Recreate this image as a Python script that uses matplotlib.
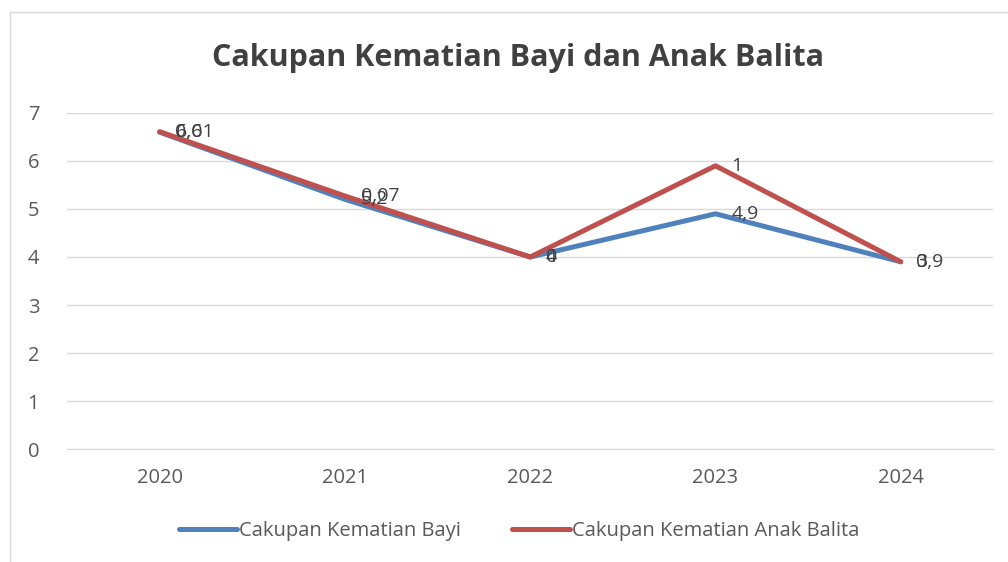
import matplotlib.pyplot as plt
import numpy as np
from matplotlib.patches import Rectangle

# data (red series is stacked on top of blue, as in the Excel chart)
years = ["2020", "2021", "2022", "2023", "2024"]
bayi = [6.6, 5.2, 4, 4.9, 3.9]
balita = [0.01, 0.07, 0, 1, 0]

plt.rcParams['font.family'] = ['Open Sans', 'DejaVu Sans']

def fmt(v):
    s = f"{v:g}"
    return s.replace(".", ",")

fig = plt.figure(figsize=(10.08, 5.62), dpi=100)
ax = fig.add_axes([0.0665, 0.201, 0.919, 0.598])

x = np.arange(len(years))
stacked = np.array(bayi) + np.array(balita)

blue = "#4F81BD"
red = "#C0504D"
ax.plot(x, bayi, color=blue, lw=3.6, solid_capstyle="round", label="Cakupan Kematian Bayi", zorder=3)
ax.plot(x, stacked, color=red, lw=3.6, solid_capstyle="round", label="Cakupan Kematian Anak Balita", zorder=4)

# data labels to the right of points
for i in range(len(x)):
    ax.text(x[i] + 0.085, bayi[i], fmt(bayi[i]), va="center", ha="left", fontsize=14, color="#404040", zorder=5)
    ax.text(x[i] + 0.085, stacked[i], fmt(balita[i]), va="center", ha="left", fontsize=14, color="#404040", zorder=5)

ax.set_xlim(-0.5, 4.5)
ax.set_ylim(0, 7)
ax.set_xticks(x)
ax.set_xticklabels(years)
ax.set_yticks(range(0, 8))
ax.grid(axis="y", color="#D9D9D9", lw=1)
ax.set_axisbelow(True)
for s in ["top", "right", "left"]:
    ax.spines[s].set_visible(False)
ax.spines["bottom"].set_color("#D9D9D9")
ax.tick_params(length=0, labelsize=14.5, labelcolor="#595959")
ax.tick_params(axis="x", pad=14)
ax.tick_params(axis="y", pad=20)

fig.text(0.514, 0.897, "Cakupan Kematian Bayi dan Anak Balita", ha="center", va="center",
         fontsize=22, fontweight="bold", color="#404040")

leg = fig.legend(loc="center", bbox_to_anchor=(0.515, 0.055), ncol=2, frameon=False,
                 fontsize=14.5, handlelength=2.9, handletextpad=0.1, columnspacing=2.5)
for t in leg.get_texts():
    t.set_color("#595959")

# outer chart border
fig.patches.append(Rectangle((10 / 1008, -0.1), 1.2, 1 - 12 / 562 + 0.1, transform=fig.transFigure,
                             fill=False, edgecolor="#D9D9D9", lw=1))

fig.savefig("out.png", dpi=100)
